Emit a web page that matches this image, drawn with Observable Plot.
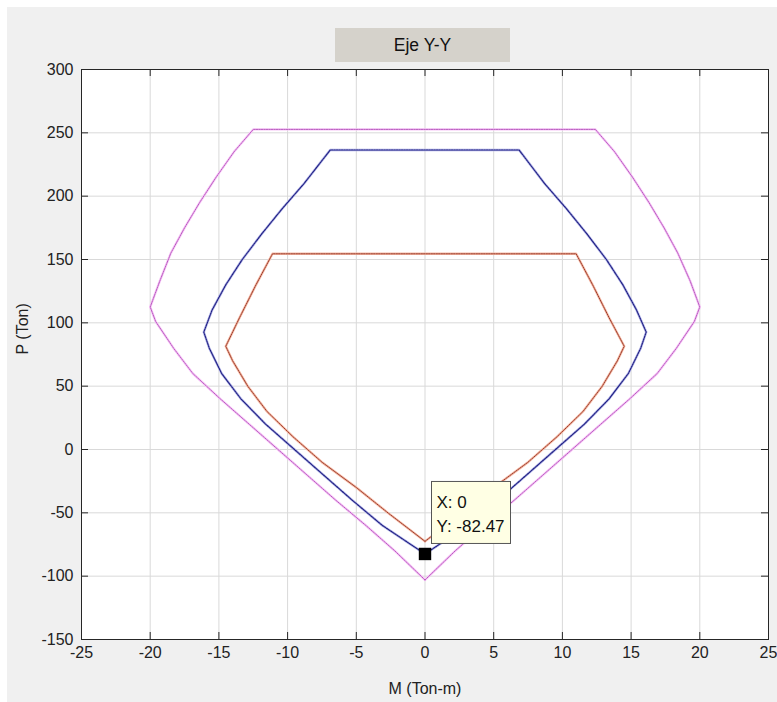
<!DOCTYPE html>
<html><head><meta charset="utf-8">
<script src="https://cdn.jsdelivr.net/npm/d3@7"></script>
<script src="https://cdn.jsdelivr.net/npm/@observablehq/plot@0.6"></script>
<style>
body{margin:0;background:#fff;font-family:"Liberation Sans",Arial,sans-serif;}
#panel{position:absolute;left:7px;top:7px;width:770px;height:695px;background:#f0f0f0;}
#title{position:absolute;left:335px;top:28px;width:175px;height:34px;background:#d5d2cb;font-size:17.5px;line-height:34px;text-align:center;color:#111;}
#chart{position:absolute;left:0;top:60px;}
</style></head><body>
<div id="panel"></div>
<div id="chart"></div>
<div id="title">Eje Y-Y</div>
<script>
// ---- data ----
const xTicks = [-25, -20, -15, -10, -5, 0, 5, 10, 15, 20, 25];
const yTicks = [-150, -100, -50, 0, 50, 100, 150, 200, 250, 300];
const titleText = "Eje Y-Y";
const xLabel = "M (Ton-m)";
const yLabel = "P (Ton)";

// outer (magenta) curve
const outerM = [0, 2.2, 4.3, 6.5, 8.6, 10.7, 12.8, 14.9, 16.9, 18.3, 19.6, 20.0,
  19.3, 18.4, 17.4, 16.3, 15.1, 13.8, 12.4,
  -12.5, -13.9, -15.2, -16.4, -17.5, -18.5, -19.3, -20.0,
  -19.6, -18.3, -16.9, -14.9, -12.8, -10.7, -8.6, -6.5, -4.3, -2.2, 0];
const outerP = [-103, -80, -60, -40, -20, 0, 20, 40, 60, 80, 101, 112.5,
  133, 155, 175, 195, 215, 235, 252.7,
  252.7, 235, 215, 195, 175, 155, 133, 112.5,
  101, 80, 60, 40, 20, 0, -20, -40, -60, -80, -103];

// middle (blue) curve
const midM = [0, 3.1, 5.3, 7.4, 9.5, 11.6, 13.4, 14.8, 15.7, 16.1,
  15.4, 14.4, 13.2, 11.8, 10.3, 8.7, 6.85,
  -6.9, -8.8, -10.4, -11.9, -13.3, -14.5, -15.5, -16.1,
  -15.7, -14.8, -13.4, -11.6, -9.5, -7.4, -5.3, -3.1, 0];
const midP = [-82.47, -60, -40, -20, 0, 20, 40, 60, 80, 92.7,
  110, 130, 150, 170, 190, 210, 236.4,
  236.4, 210, 190, 170, 150, 130, 110, 92.7,
  80, 60, 40, 20, 0, -20, -40, -60, -82.47];

// inner (red) curve
const innerM = [0, 2.7, 5.0, 7.5, 9.6, 11.5, 12.9, 14.0, 14.5, 13.4, 12.2, 11.0,
  -11.1, -12.3, -13.5, -14.5, -14.0, -12.9, -11.5, -9.6, -7.5, -5.0, -2.7, 0];
const innerP = [-72.5, -50, -30, -10, 10, 30, 50, 70, 81.5, 104, 130, 154.5,
  154.5, 130, 104, 81.5, 70, 50, 30, 10, -10, -30, -50, -72.5];

// data tip
const tipM = [0];
const tipP = [-82.47];

// ---- build ----
const toRows = (M, P) => M.map((m, i) => ({M: m, P: P[i]}));
const outer = toRows(outerM, outerP);
const mid = toRows(midM, midP);
const inner = toRows(innerM, innerP);
const tip = toRows(tipM, tipP);

const font = "Liberation Sans, Arial, sans-serif";
const frameW = 777 - 81 - 9, frameH = 642 - 9 - 63;
const tickLen = 7;
const fmt = d => String(d);
const plot = Plot.plot({
  width: 777, height: 642,
  marginTop: 9, marginLeft: 81, marginRight: 9, marginBottom: 63,
  style: {background: "transparent", fontFamily: font, fontSize: "16px", color: "#222", overflow: "visible"},
  x: {domain: [-25, 25], label: null},
  y: {domain: [-150, 300], label: null},
  marks: [
    Plot.frame({fill: "white"}),
    Plot.gridX(xTicks, {stroke: "#d9d9d9", strokeOpacity: 1}),
    Plot.gridY(yTicks, {stroke: "#d9d9d9", strokeOpacity: 1}),
    Plot.line(outer, {x: "M", y: "P", stroke: "#f7c6f7", strokeWidth: 2.4}),
    Plot.line(outer, {x: "M", y: "P", stroke: "#b050b8", strokeWidth: 0.9, strokeDasharray: "1.5,1"}),
    Plot.line(mid, {x: "M", y: "P", stroke: "#aeb0e6", strokeWidth: 2.4}),
    Plot.line(mid, {x: "M", y: "P", stroke: "#1e1e80", strokeWidth: 1.1, strokeDasharray: "1.5,1"}),
    Plot.line(inner, {x: "M", y: "P", stroke: "#f6b8a4", strokeWidth: 2.4}),
    Plot.line(inner, {x: "M", y: "P", stroke: "#8e3020", strokeWidth: 0.9, strokeDasharray: "1.5,1"}),
    Plot.dot(tip, {x: "M", y: "P", symbol: "square", r: 7, fill: "black"}),
    Plot.tickX(xTicks, {x: d => d, insetTop: frameH - tickLen, stroke: "#262626"}),
    Plot.tickX(xTicks, {x: d => d, insetBottom: frameH - tickLen, stroke: "#262626"}),
    Plot.tickY(yTicks, {y: d => d, insetRight: frameW - tickLen, stroke: "#262626"}),
    Plot.tickY(yTicks, {y: d => d, insetLeft: frameW - tickLen, stroke: "#262626"}),
    Plot.frame({stroke: "#262626", strokeWidth: 1}),
    Plot.axisX(xTicks, {anchor: "bottom", tickSize: 0, tickPadding: 7, tickFormat: fmt, label: null, fill: "#222"}),
    Plot.axisY(yTicks, {anchor: "left", tickSize: 0, tickPadding: 8, tickFormat: fmt, label: null, fill: "#222"}),
    Plot.text([xLabel], {frameAnchor: "bottom", dy: 54, fontSize: 16, fill: "#222"}),
    Plot.text([yLabel], {frameAnchor: "left", rotate: -90, dx: -59, fontSize: 16, fill: "#222"})
  ]
});
document.getElementById("chart").appendChild(plot);
document.getElementById("title").textContent = titleText;

// data tip box positioned through the plot's own scales
const xs = plot.scale("x"), ys = plot.scale("y");
const px = xs.apply(tipM[0]) + 7, py = ys.apply(tipP[0]) - 72;
const g = d3.select(plot).append("g").attr("font-family", font).attr("font-size", 17)
  .attr("fill", "#111").attr("text-anchor", "start");
g.append("rect").attr("x", px).attr("y", py).attr("width", 79).attr("height", 62)
  .attr("fill", "#ffffe4").attr("stroke", "#555").attr("stroke-width", 1);
g.append("text").attr("x", px + 5).attr("y", py + 27).text("X: " + tipM[0]);
g.append("text").attr("x", px + 5).attr("y", py + 51).text("Y: " + tipP[0]);
</script>
</body></html>
